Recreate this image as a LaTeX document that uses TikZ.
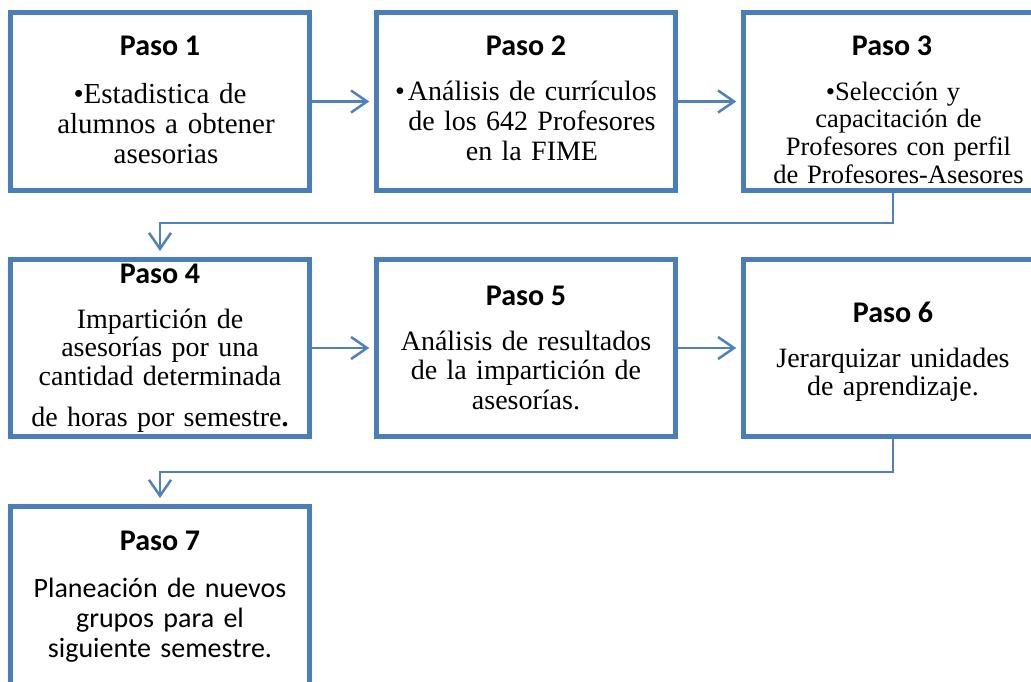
\documentclass[tikz,border=0pt]{standalone}
\usepackage{fontspec}
\setmainfont{Liberation Serif}
\newfontfamily\calibrifont{Carlito}
\usetikzlibrary{arrows.meta}
\definecolor{boxblue}{RGB}{74,126,187}
\definecolor{linkblue}{RGB}{79,129,189}
\begin{document}
\begin{tikzpicture}[x=1pt,y=-1pt,
  stepbox/.style={draw=boxblue, line width=5pt, minimum width=298.5pt, minimum height=178pt, inner sep=0pt},
  head/.style={font=\calibrifont\bfseries\fontsize{30}{32}\selectfont, anchor=base, inner sep=0pt},
  body/.style={align=center, text width=300pt, anchor=base, inner sep=0pt},
  conn/.style={draw=linkblue, line width=2.5pt, -{Straight Barb[length=16pt,width=22pt,line width=2.5pt]}},
]
\useasboundingbox (0,0) rectangle (1031,681);
\clip (0,0) rectangle (1031,681);
% boxes
\node[stepbox] (b1) at (160,101.5) {};
\node[stepbox] (b2) at (526,101.5) {};
\node[stepbox] (b3) at (893,101.5) {};
\node[stepbox, minimum height=177pt] (b4) at (160,348) {};
\node[stepbox, minimum height=177pt] (b5) at (526,348) {};
\node[stepbox, minimum height=177pt] (b6) at (893,348) {};
\node[stepbox] (b7) at (160,595.5) {};
% headings
\node[head] (h1) at (160,55) {Paso 1};
\node[head] (h2) at (526,55) {Paso 2};
\node[head] (h3) at (892,55) {Paso 3};
\node[head] (h4) at (160,283) {Paso 4};
\node[head] (h5) at (526,305) {Paso 5};
\node[head] (h6) at (893,322) {Paso 6};
\node[head] (h7) at (160,550) {Paso 7};
% bodies
\node[body, font=\fontsize{29}{30}\selectfont] (t1) at (166,103)
  {\kern-12pt\textbullet Estadistica de\\ alumnos a obtener\\ asesorias};
\node[body, font=\fontsize{28}{30}\selectfont] (t2) at (532,100)
  {\kern-12pt\textbullet\kern3pt Análisis de currículos\\ de los 642 Profesores\\ en la FIME};
\node[body, font=\fontsize{26.5}{27.7}\selectfont] (t3) at (898.5,100)
  {\kern-11pt\textbullet Selección y\\ capacitación de\\ Profesores con perfil\\ de Profesores-Asesores};
\node[body, font=\fontsize{28}{28.7}\selectfont] (t4) at (160,328)
  {Impartición de\\ asesorías por una\\ cantidad determinada\\[12.5pt] de horas por semestre{\bfseries .}};
\node[body, font=\fontsize{28}{29.5}\selectfont] (t5) at (526,350)
  {Análisis de resultados\\ de la impartición de\\ asesorías.};
\node[body, font=\fontsize{28}{28.5}\selectfont] (t6) at (893,367)
  {Jerarquizar unidades\\ de aprendizaje.};
\node[body, font=\calibrifont\fontsize{28}{30}\selectfont] (t7) at (160,597)
  {Planeación de nuevos\\ grupos para el\\ siguiente semestre.};
% connectors
\draw[conn, shorten >=5pt] (b1.east) -- (b2.west);
\draw[conn, shorten >=5pt] (b2.east) -- (b3.west);
\draw[conn, shorten >=6pt] (b3.south) -- ++(0,30) -| (b4.north);
\draw[conn, shorten >=5pt] (b4.east) -- (b5.west);
\draw[conn, shorten >=5pt] (b5.east) -- (b6.west);
\draw[conn, shorten >=6pt] (b6.south) -- ++(0,33) -| (b7.north);
\end{tikzpicture}
\end{document}
